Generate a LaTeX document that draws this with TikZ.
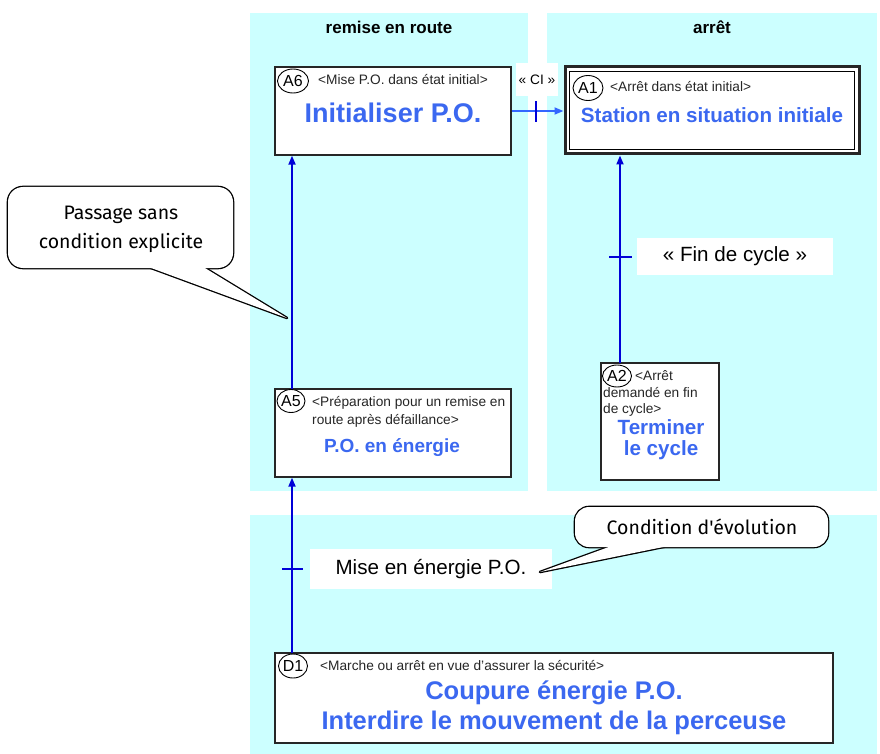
\documentclass[tikz,border=0pt]{standalone}
\usepackage{fontspec}
\setmainfont{Liberation Sans}
\newfontfamily\comicfont{Fira Sans}
\usetikzlibrary{arrows.meta,shapes.geometric}
\definecolor{panelcyan}{RGB}{204,255,255}
\definecolor{titleblue}{RGB}{59,104,240}
\definecolor{linkblue}{RGB}{0,0,215}
\definecolor{lightlink}{RGB}{51,102,255}
\begin{document}
\begin{tikzpicture}[x=1pt,y=-1pt,
  every node/.style={inner sep=0pt},
  stepbox/.style={draw=black!85, line width=1.3pt, fill=white, rectangle},
  tagmark/.style={draw=black, line width=0.9pt, ellipse, fill=white, minimum width=30, minimum height=24, inner sep=0pt, font=\fontsize{16}{16}\selectfont},
  subtxt/.style={font=\fontsize{13.7}{17}\selectfont, anchor=west, align=left, text=black!85},
  header/.style={font=\bfseries\fontsize{17}{17}\selectfont},
  maintxt/.style={text=titleblue, align=center},
  link/.style={draw=linkblue, line width=1.8pt, -{Triangle[length=9pt,width=7pt]}},
  linktwo/.style={draw=lightlink, line width=1.8pt, -{Triangle[length=9pt,width=7pt]}},
  tickmark/.style={draw=linkblue, line width=2pt},
  condlabel/.style={fill=white, font=\fontsize{20.6}{24}\selectfont},
  bubbletext/.style={font=\comicfont\fontsize{19.5}{29}\selectfont, align=center},
  bubbleline/.style={draw=black, line width=2.6pt, line join=round}
]
\useasboundingbox (0,0) rectangle (880,754);
% panels
\fill[panelcyan] (250,13) rectangle (528,491);
\fill[panelcyan] (547,13) rectangle (877,491);
\fill[panelcyan] (250,515) rectangle (877,754);

\node[header] (h1) at (389,27) {remise en route};
\node[header] (h2) at (712,27) {arrêt};

% step boxes
\node[stepbox, minimum width=236, minimum height=88] (A6) at (393,111) {};
\node[stepbox, line width=3pt, minimum width=294, minimum height=87] (A1) at (712,110.5) {};
\draw[line width=0.8pt] ([shift={(6,6)}]A1.north west) rectangle ([shift={(-6,-6)}]A1.south east);
\node[stepbox, minimum width=118, minimum height=117] (A2) at (660,421.5) {};
\node[stepbox, minimum width=236, minimum height=88] (A5) at (393,433) {};
\node[stepbox, minimum width=558, minimum height=90] (D1) at (554,698) {};

% A6
\node[tagmark, minimum width=31, minimum height=24] (t6) at (293,81) {A6};
\node[subtxt] (s6) at (318,80) {<Mise P.O. dans état initial>};
\node[maintxt, font=\bfseries\fontsize{27}{30}\selectfont] (m6) at (393,113) {Initialiser P.O.};

% A1
\node[tagmark, minimum width=30, minimum height=25] (t1) at (588,88) {A1};
\node[subtxt] (s1) at (610,87) {<Arrêt dans état initial>};
\node[maintxt, font=\bfseries\fontsize{20.6}{24}\selectfont] (m1) at (712,115) {Station en situation initiale};

% A2
\node[tagmark, minimum width=29, minimum height=22] (t2) at (617,376) {A2};
\node[subtxt] (s2a) at (635,376) {<Arrêt};
\node[subtxt] (s2b) at (603,393) {demandé en fin};
\node[subtxt] (s2c) at (603,410) {de cycle>};
\node[maintxt, font=\bfseries\fontsize{20.6}{21}\selectfont] (m2) at (661,440) {Terminer\\le cycle};

% A5
\node[tagmark, minimum width=28, minimum height=23] (t5) at (291,401) {A5};
\node[subtxt] (s5a) at (312,403) {<Préparation pour un remise en};
\node[subtxt] (s5b) at (312,421) {route après défaillance>};
\node[maintxt, font=\bfseries\fontsize{19}{22}\selectfont] (m5) at (392,448) {P.O. en énergie};

% D1
\node[tagmark, minimum width=29, minimum height=24] (td) at (293,666) {D1};
\node[subtxt] (sd) at (320,666) {<Marche ou arrêt en vue d'assurer la sécurité>};
\node[maintxt, font=\bfseries\fontsize{25.5}{30}\selectfont] (md) at (554,708) {Coupure énergie P.O.\\Interdire le mouvement de la perceuse};

% connectors
\draw[linktwo] (A6.east) -- (A6.east -| A1.west);
\draw[tickmark] (536,101) -- (536,122);
\coordinate (p2) at (620,363);
\draw[link] (p2) -- (p2 |- A1.south);
\draw[tickmark] (609,257) -- (632,257);
\coordinate (p5) at (292,389);
\draw[link] (p5) -- (p5 |- A6.south);
\coordinate (pd) at (292,653);
\draw[link] (pd) -- (pd |- A5.south);
\draw[tickmark] (282,569) -- (303,569);

% transition labels
\node[condlabel, minimum width=42, minimum height=33, font=\fontsize{13.7}{16}\selectfont] (ci) at (537,80) {« CI »};
\node[condlabel, minimum width=196, minimum height=37] (fc) at (735,256) {« Fin de cycle »};
\node[condlabel, minimum width=242, minimum height=40] (me) at (431,569) {Mise en énergie P.O.};

% callout 1
\coordinate (tip1) at (287,318);
\draw[bubbleline, rounded corners=15] (8,187) rectangle (233,268);
\draw[bubbleline] (143,265) -- (tip1) -- (200,265) -- cycle;
\fill[white, rounded corners=15] (8,187) rectangle (233,268);
\fill[white] (143,265) -- (tip1) -- (200,265) -- cycle;
\node[bubbletext] (c1) at (121,229) {Passage sans\\condition explicite};

% callout 2
\coordinate (tip2) at (540,572);
\draw[bubbleline, rounded corners=14] (575,507) rectangle (828,547);
\draw[bubbleline] (617,544) -- (tip2) -- (678,544) -- cycle;
\fill[white, rounded corners=14] (575,507) rectangle (828,547);
\fill[white] (617,544) -- (tip2) -- (678,544) -- cycle;
\node[bubbletext] (c2) at (702,527) {Condition d'évolution};
\end{tikzpicture}
\end{document}
